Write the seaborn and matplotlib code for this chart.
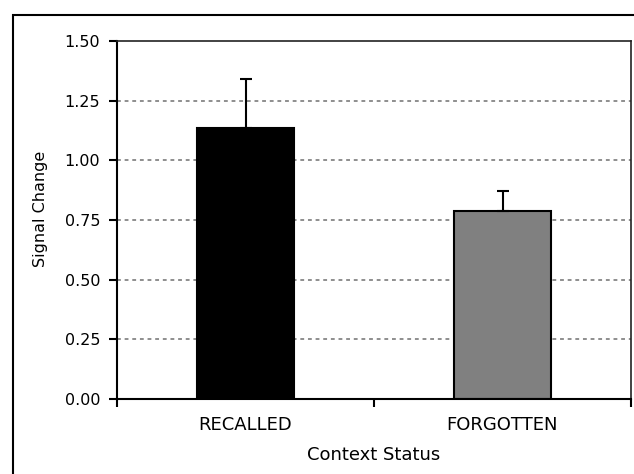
import numpy as np
import pandas as pd
import matplotlib.pyplot as plt
import seaborn as sns
from matplotlib.patches import Rectangle

sns.set_style("ticks")
plt.rcParams['font.family'] = ['DejaVu Sans']
plt.rcParams['text.color'] = 'black'
plt.rcParams['axes.labelcolor'] = 'black'
plt.rcParams['xtick.color'] = 'black'
plt.rcParams['ytick.color'] = 'black'

# input data
status = ["RECALLED", "FORGOTTEN"]
signal = [1.135, 0.788]
sem = [0.207, 0.083]
bar_colors = ["#000000", "#808080"]

df = pd.DataFrame({"Status": status, "Signal": signal})

fig = plt.figure(figsize=(6.34, 4.74), dpi=100)
ax = fig.add_axes([117 / 634, 1 - 399 / 474, (631 - 117) / 634, (399 - 41) / 474])

sns.barplot(data=df, x="Status", y="Signal", hue="Status", palette=bar_colors,
            width=0.38, edgecolor="black", linewidth=1.5, legend=False, ax=ax)

# upper error bars only
centers = [p.get_x() + p.get_width() / 2 for p in ax.patches]
ax.errorbar(centers, signal, yerr=[np.zeros(len(sem)), sem], fmt="none",
            ecolor="black", elinewidth=1.5, capsize=4.5, capthick=1.5, zorder=3)

ax.set_xlim(-0.5, 1.5)
ax.set_ylim(0, 1.5)
ax.set_yticks(np.arange(0, 1.51, 0.25))
ax.set_yticklabels([f"{v:.2f}" for v in np.arange(0, 1.51, 0.25)])

# category boundaries as major ticks, labels on minor ticks
ax.set_xticks([-0.5, 0.5, 1.5])
ax.set_xticklabels(["", "", ""])
ax.set_xticks([0, 1], status, minor=True)
ax.tick_params(axis="x", which="major", length=6, width=1.5, direction="out")
ax.tick_params(axis="x", which="minor", length=0, pad=12, labelsize=13)
ax.tick_params(axis="y", length=6, width=1.5, direction="out", pad=6, labelsize=11.5)

for v in np.arange(0.25, 1.3, 0.25):
    ax.axhline(v, color="#707070", lw=1.1, linestyle=(0, (2.5, 2.5)), zorder=0)

for s in ["left", "bottom"]:
    ax.spines[s].set_linewidth(1.5)
    ax.spines[s].set_color("black")
for s in ["top", "right"]:
    ax.spines[s].set_visible(True)
    ax.spines[s].set_linewidth(1.2)
    ax.spines[s].set_color("#222222")

ax.set_xlabel("Context Status", fontsize=13, labelpad=9)
ax.set_ylabel("Signal Change", fontsize=11.5)
ax.yaxis.set_label_coords(-0.134, 0.53)

# outer chart border (cut off on the right and bottom)
fig.add_artist(Rectangle((13 / 634, -0.2), 1.5, 1.2 - 15 / 474, transform=fig.transFigure,
                         fill=False, edgecolor="black", lw=1.5))

fig.savefig("out.png", dpi=100)
